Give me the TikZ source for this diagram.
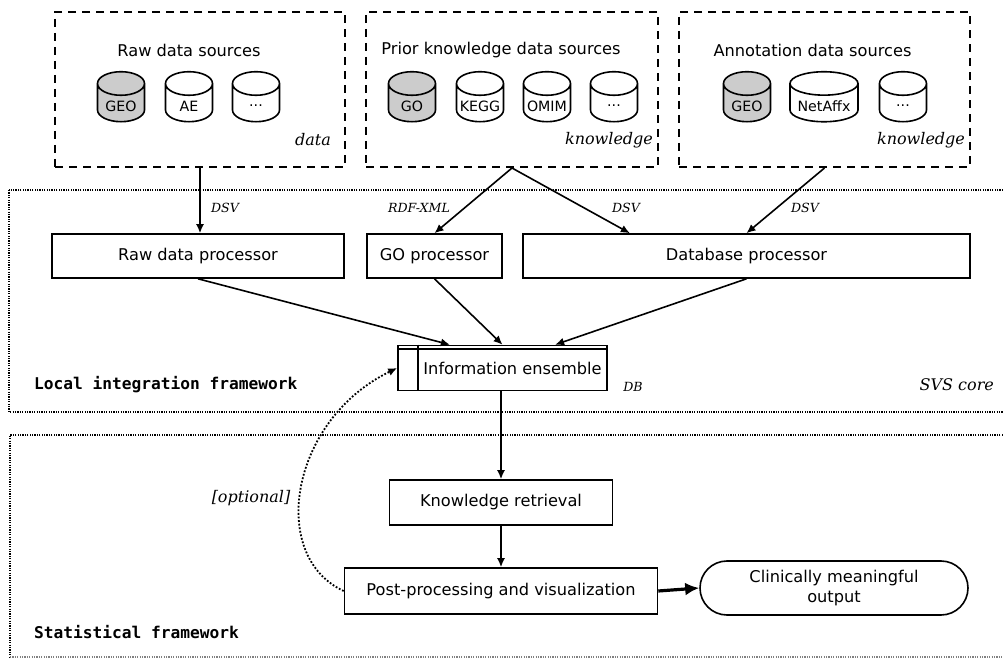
\documentclass[tikz,border=0pt]{standalone}
\usepackage{fontspec}
\setmainfont{DejaVu Sans}
\newfontfamily\labelfont{DejaVu Serif}
\newfontfamily\framefont{DejaVu Sans Mono}
\usetikzlibrary{shapes.geometric,shapes.misc,arrows.meta,calc}
\newcommand{\cylname}[2][19pt]{\makebox[#1]{\raisebox{-1.5pt}[\height][0pt]{#2}}}

\begin{document}
\begin{tikzpicture}[x=0.5pt, y=-0.5pt,
  txt/.style={font=\fontsize{8.1}{9.7}\selectfont},
  proc/.style={draw, line width=0.8pt, txt, minimum height=22pt, inner sep=0pt},
  dbcyl/.style={cylinder, shape border rotate=90, draw, line width=0.8pt, shape aspect=0.62,
    minimum width=23.5pt, minimum height=25pt, inner sep=0pt, font=\fontsize{7.1}{8}\selectfont},
  src/.style={draw, dash pattern=on 4pt off 3pt, line width=1pt, minimum height=77.5pt, inner sep=0pt},
  frame/.style={line width=0.6pt, dash pattern=on 0.6pt off 0.6pt},
  arr/.style={-{Latex[length=4.5pt,width=4pt]}, line width=0.8pt},
  bigarr/.style={-{Latex[length=7pt,width=6.5pt]}, line width=1.6pt},
  tag/.style={font=\labelfont\itshape\fontsize{6.3}{7}\selectfont},
  kind/.style={font=\labelfont\itshape\fontsize{8}{9}\selectfont},
  fw/.style={font=\framefont\bfseries\fontsize{8.1}{9.7}\selectfont, anchor=west},
]
\useasboundingbox (0,0) rectangle (1003,658);

% Frames (dotted)
\draw[frame] (9,190) rectangle (1010,412);
\draw[frame] (1010,435) -- (10,435) -- (10,657);
\draw[frame, gray] (10,657) -- (1010,657);
\node[fw] (lif) at (27,385) {Local integration framework};
\node[fw] (stf) at (27,632) {Statistical framework};
\node[kind, anchor=east] (svs) at (1001,385) {SVS core};

% Data sources (dashed)
\node[src, minimum width=145pt] (rawsrc) at (200,89.5) {};
\node[src, minimum width=146pt] (priorsrc) at (512,89.5) {};
\node[src, minimum width=145.5pt] (annosrc) at (824.5,89.5) {};

\node[txt] (rawtitle) at (189,50) {Raw data sources};
\node[txt] (priortitle) at (501,50) {Prior knowledge data sources};
\node[txt] (annotitle) at (812.5,50) {Annotation data sources};

% Cylinders
\node[dbcyl, fill=gray!40] (geoA) at (121,103) {\cylname{GEO}};
\node[dbcyl] (ae) at (189,103) {\cylname{AE}};
\node[dbcyl] (moreA) at (256,103) {\cylname{...}};

\node[dbcyl, fill=gray!40] (go) at (412,103) {\cylname{GO}};
\node[dbcyl] (kegg) at (480,103) {\cylname{KEGG}};
\node[dbcyl] (omim) at (547,103) {\cylname{OMIM}};
\node[dbcyl] (moreB) at (614,103) {\cylname{...}};

\node[dbcyl, fill=gray!40] (geoB) at (747,103) {\cylname{GEO}};
\node[dbcyl, minimum width=34pt, shape aspect=0.45] (netaffx) at (824,103) {\cylname[26pt]{NetAffx}};
\node[dbcyl] (moreC) at (903,103) {\cylname{...}};

\node[kind, anchor=east] (dataA) at (338,140) {data};
\node[kind, anchor=east] (knowA) at (660,140) {knowledge};
\node[kind, anchor=east] (knowB) at (972,140) {knowledge};

% Processors
\node[proc, minimum width=146pt] (rawproc) at (198,256) {Raw data processor};
\node[proc, minimum width=67.5pt] (goproc) at (434.5,256) {GO processor};
\node[proc, minimum width=223.5pt] (dbproc) at (746.5,256) {Database processor};

\draw[arr] (rawsrc.south) -- (rawsrc.south |- rawproc.north);
\draw[arr] (priorsrc.south) -- (goproc.north);
\draw[arr] (priorsrc.south) -- ($(dbproc.north west)!0.24!(dbproc.north east)$);
\draw[arr] (annosrc.south) -- (dbproc.north);

\node[tag] (dsvA) at (225,208) {DSV};
\node[tag] (rdf) at (419,208) {RDF-XML};
\node[tag] (dsvB) at (626,208) {DSV};
\node[tag] (dsvC) at (805,208) {DSV};

% Information ensemble (DB)
\node[proc, minimum width=104.5pt, minimum height=22.5pt] (ie) at (502.5,368) {\hspace*{10pt}Information ensemble};
\draw[line width=0.8pt] ($(ie.north west)+(0,4.3)$) -- ($(ie.north east)+(0,4.3)$);
\draw[line width=0.8pt] ($(ie.north west)+(21,0)$) -- ($(ie.south west)+(21,0)$);
\node[tag] (db) at (633,387) {DB};

\draw[arr] (rawproc.south) -- ($(ie.north west)!0.25!(ie.north east)$);
\draw[arr] (goproc.south) -- (ie.north);
\draw[arr] (dbproc.south) -- ($(ie.north west)!0.75!(ie.north east)$);

% Statistical part
\node[proc, minimum width=111.5pt, minimum height=22.5pt] (kr) at (501,502.5) {Knowledge retrieval};
\node[proc, minimum width=156.5pt, minimum height=23pt] (pp) at (501,591) {Post-processing and visualization};
\node[rounded rectangle, draw, line width=0.8pt, txt, align=center, minimum width=134pt,
  minimum height=27pt, inner sep=0pt] (out) at (834,588) {Clinically meaningful\\output};

\draw[arr] (kr.north |- ie.south) -- (kr.north);
\draw[arr] (kr.south) -- (pp.north);
\draw[bigarr] (pp.east) -- (out.west);

% optional feedback
\draw[arr, line width=0.9pt, dash pattern=on 0.9pt off 0.9pt] (pp.west) .. controls (268,556) and (290,420) .. (ie.west);
\node[kind] (opt) at (251,498) {[optional]};

\end{tikzpicture}
\end{document}
